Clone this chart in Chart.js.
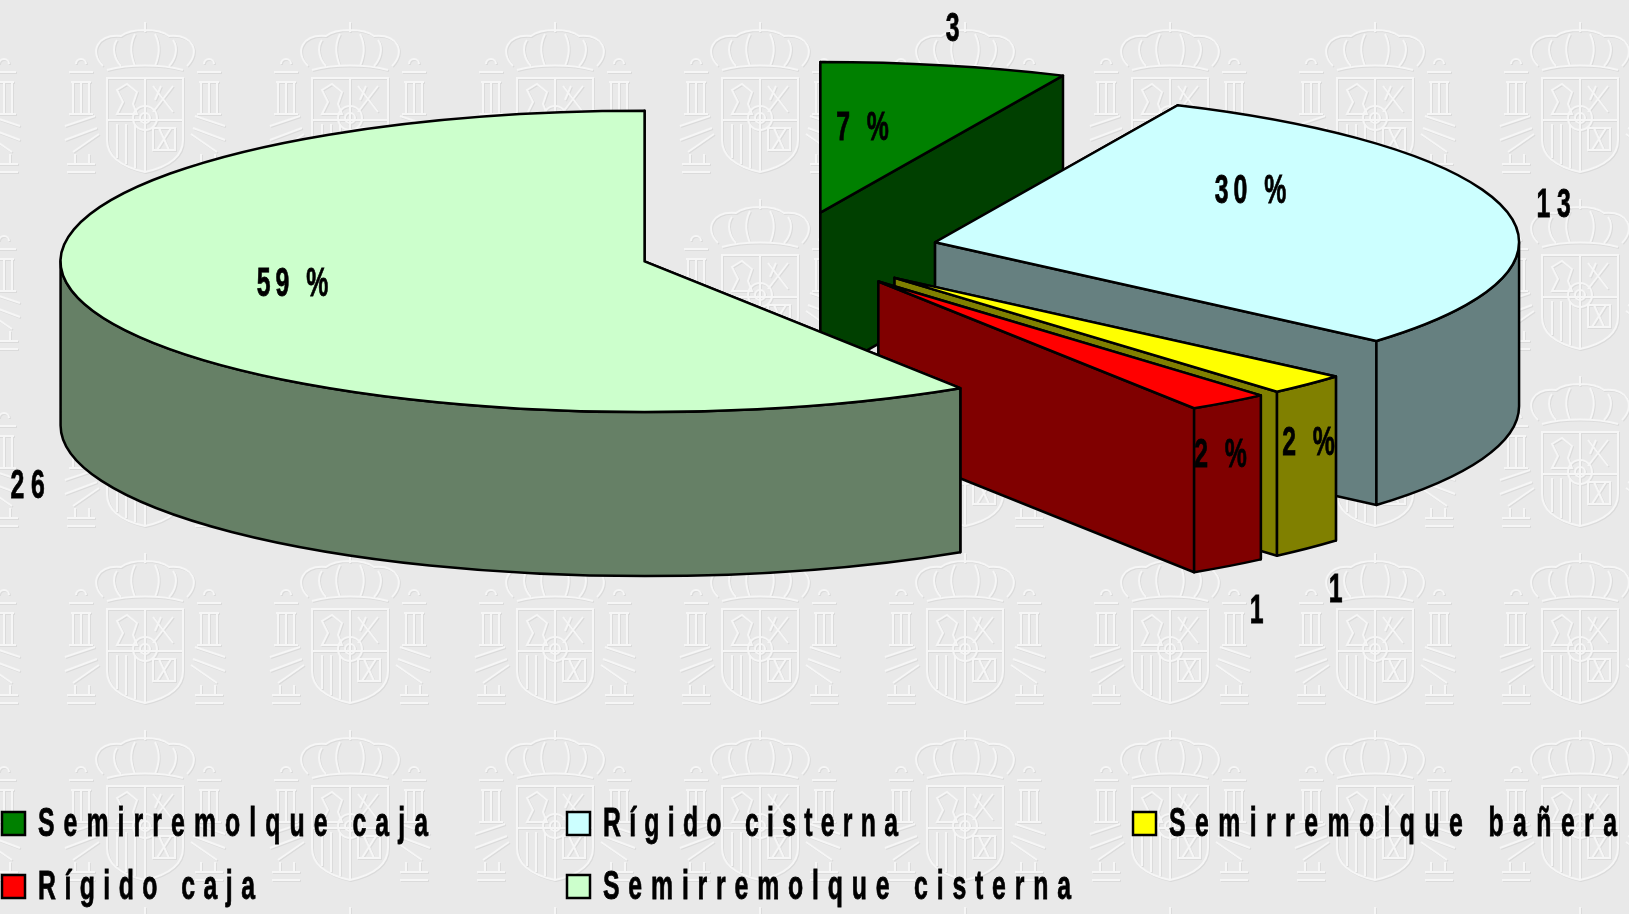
<!DOCTYPE html>
<html lang="es">
<head>
    <meta charset="UTF-8">
    <title>Semirremolques y rígidos</title>
    <style>
        html, body { margin: 0; height: 100%; overflow: hidden; background-color: #e9e9e9; }
        canvas { display: block; }
    </style>
    <script src="https://cdn.jsdelivr.net/npm/chart.js"></script>
</head>
<body>
    <canvas id="pie" width="1629" height="914"></canvas>

    <script>
        const categories = ['Semirremolque caja', 'Rígido cisterna', 'Semirremolque bañera', 'Rígido caja', 'Semirremolque cisterna'];
        const values = [3, 13, 1, 1, 26];
        const sliceColors = ['#008000', '#CCFFFF', '#FFFF00', '#FF0000', '#CCFFCC'];
        const wallColors = ['#004000', '#668080', '#808000', '#800000', '#668066'];

        // label anchors, same order as categories
        const percentAnchors = [[865, 129], [1253, 192], [1311, 444], [1223, 456], [295, 285]];
        const valueAnchors = [[956, 30], [1557, 206], [1339, 591], [1260, 612], [31, 487]];
        const legendColumns = [2, 567, 1133];
        const legendRows = [812, 875];
        const legendWidths = [390, 295, 448, 217, 468];

        const SQUASH = 0.258;   // pie is tilted: circle -> ellipse
        const DEPTH = 164;
        const FONT = 'bold 40px "Liberation Sans", Arial, sans-serif';
        const NARROW = 0.62;    // text is very condensed in the original

        function crestTile() {
            // embossed coat of arms behind the chart, very rough
            const shapes =
                '<path d="M60 44C46 30 54 12 78 14C88 6 116 6 126 14C150 12 158 30 144 44M102 0V10M74 18C68 26 72 38 78 44M92 12C86 24 88 34 92 44M112 12C118 24 116 34 112 44M130 18C136 26 132 38 126 44M64 48C86 42 118 42 140 48"/>' +
                '<path d="M64 56H140V118C140 138 120 146 102 150C84 146 64 138 64 118ZM102 56V150M64 98H140M74 102V136M83 102V142M92 102V146"/>' +
                '<path d="M74 68L84 62L94 70L90 82L94 92H74L80 80ZM110 64L130 90M130 64L110 90M118 64L112 78M110 106H132V128H110ZM116 106L126 128M128 106L114 128"/>' +
                '<circle cx="102" cy="96" r="12"/><circle cx="102" cy="96" r="5"/>' +
                '<path d="M26 50H50M28 60H48M30 60V92M38 60V92M46 60V92M26 92H50M22 104L52 94M22 118L54 106M30 130L56 112M32 132V142M46 132V142M24 142H52M24 150H52"/>' +
                '<path d="M154 50H178M156 60H176M158 60V92M166 60V92M174 60V92M154 92H178M152 94L182 104M150 106L182 118M148 112L174 130M158 132V142M172 132V142M152 142H180M152 150H180"/>' +
                '<path d="M33 42A5 5 0 0 1 43 42M161 42A5 5 0 0 1 171 42"/>';
            const svg = '<svg xmlns="http://www.w3.org/2000/svg" width="205" height="177">' +
                '<defs><filter id="b"><feGaussianBlur stdDeviation="0.7"/></filter></defs>' +
                '<g fill="none" stroke-width="2" filter="url(#b)">' +
                '<g stroke="#dbdbdb" transform="translate(1 1)">' + shapes + '</g>' +
                '<g stroke="#f6f6f6">' + shapes + '</g></g></svg>';
            return 'url("data:image/svg+xml,' + encodeURIComponent(svg) + '")';
        }

        document.body.style.backgroundImage = crestTile();
        document.body.style.backgroundPosition = '43px 22px';

        function drawText(ctx, text, x, y, spacing, align, width) {
            ctx.save();
            ctx.translate(x, y);
            ctx.scale(NARROW, 1);
            ctx.font = FONT;
            ctx.fillStyle = '#000';
            ctx.strokeStyle = '#000';
            ctx.lineWidth = 0.8;
            ctx.textAlign = align;
            ctx.textBaseline = 'middle';
            if (width) {
                // stretch the spacing so the text ends where the original does
                spacing = (width / NARROW - ctx.measureText(text).width) / (text.length - 1);
            }
            ctx.letterSpacing = spacing + 'px';
            ctx.fillText(text, 0, 0);
            ctx.strokeText(text, 0, 0);
            ctx.restore();
        }

        // draws the slices as an exploded 3D pie, geometry comes from the arc elements
        const pie3d = {
            id: 'pie3d',
            beforeDatasetDraw(chart, args) {
                const ctx = chart.ctx;
                ctx.save();
                ctx.lineWidth = 2.5;
                ctx.lineJoin = 'round';
                ctx.strokeStyle = '#000';
                args.meta.data.forEach((arc, i) => {
                    const mid = (arc.startAngle + arc.endAngle) / 2;
                    const off = arc.options.offset;
                    const cx = arc.x + Math.cos(mid) * off;
                    const cy = arc.y + Math.sin(mid) * off * SQUASH;
                    const rx = arc.outerRadius;
                    const ry = rx * SQUASH;
                    const rimX = a => cx + Math.cos(a) * rx;
                    const rimY = a => cy + Math.sin(a) * ry;

                    ctx.fillStyle = wallColors[i];
                    // straight cut walls
                    [arc.startAngle, arc.endAngle].forEach(a => {
                        ctx.beginPath();
                        ctx.moveTo(cx, cy);
                        ctx.lineTo(rimX(a), rimY(a));
                        ctx.lineTo(rimX(a), rimY(a) + DEPTH);
                        ctx.lineTo(cx, cy + DEPTH);
                        ctx.closePath();
                        ctx.fill();
                        ctx.stroke();
                    });
                    // front part of the rim
                    const a0 = Math.max(arc.startAngle, 0);
                    const a1 = Math.min(arc.endAngle, Math.PI);
                    if (a1 > a0) {
                        ctx.beginPath();
                        ctx.ellipse(cx, cy, rx, ry, 0, a0, a1);
                        ctx.ellipse(cx, cy + DEPTH, rx, ry, 0, a1, a0, true);
                        ctx.closePath();
                        ctx.fill();
                        ctx.stroke();
                    }
                    // top face
                    ctx.fillStyle = arc.options.backgroundColor;
                    ctx.beginPath();
                    ctx.moveTo(cx, cy);
                    ctx.ellipse(cx, cy, rx, ry, 0, arc.startAngle, arc.endAngle);
                    ctx.closePath();
                    ctx.fill();
                    ctx.stroke();
                });
                ctx.restore();
                return false;
            },
            afterDraw(chart) {
                const ctx = chart.ctx;
                const total = values.reduce((a, b) => a + b, 0);
                values.forEach((v, i) => {
                    const pct = Math.round(v / total * 100);
                    drawText(ctx, pct + ' %', percentAnchors[i][0], percentAnchors[i][1], 8, 'center');
                    drawText(ctx, String(v), valueAnchors[i][0], valueAnchors[i][1], 11, 'center');
                });
                categories.forEach((name, i) => {
                    const x = legendColumns[i % 3];
                    const y = legendRows[Math.floor(i / 3)];
                    ctx.fillStyle = sliceColors[i];
                    ctx.strokeStyle = '#000';
                    ctx.lineWidth = 2.5;
                    ctx.fillRect(x, y, 23, 23);
                    ctx.strokeRect(x, y, 23, 23);
                    drawText(ctx, name, x + 36, y + 13, 0, 'left', legendWidths[i]);
                });
            }
        };

        new Chart(document.getElementById('pie'), {
            type: 'pie',
            data: {
                labels: categories,
                datasets: [{
                    data: values,
                    backgroundColor: sliceColors,
                    offset: 150
                }]
            },
            options: {
                responsive: false,
                animation: false,
                radius: 584,
                layout: { padding: { right: 52, bottom: 413 } },
                plugins: {
                    legend: { display: false },
                    tooltip: { enabled: false }
                }
            },
            plugins: [pie3d]
        });
    </script>
</body>
</html>
